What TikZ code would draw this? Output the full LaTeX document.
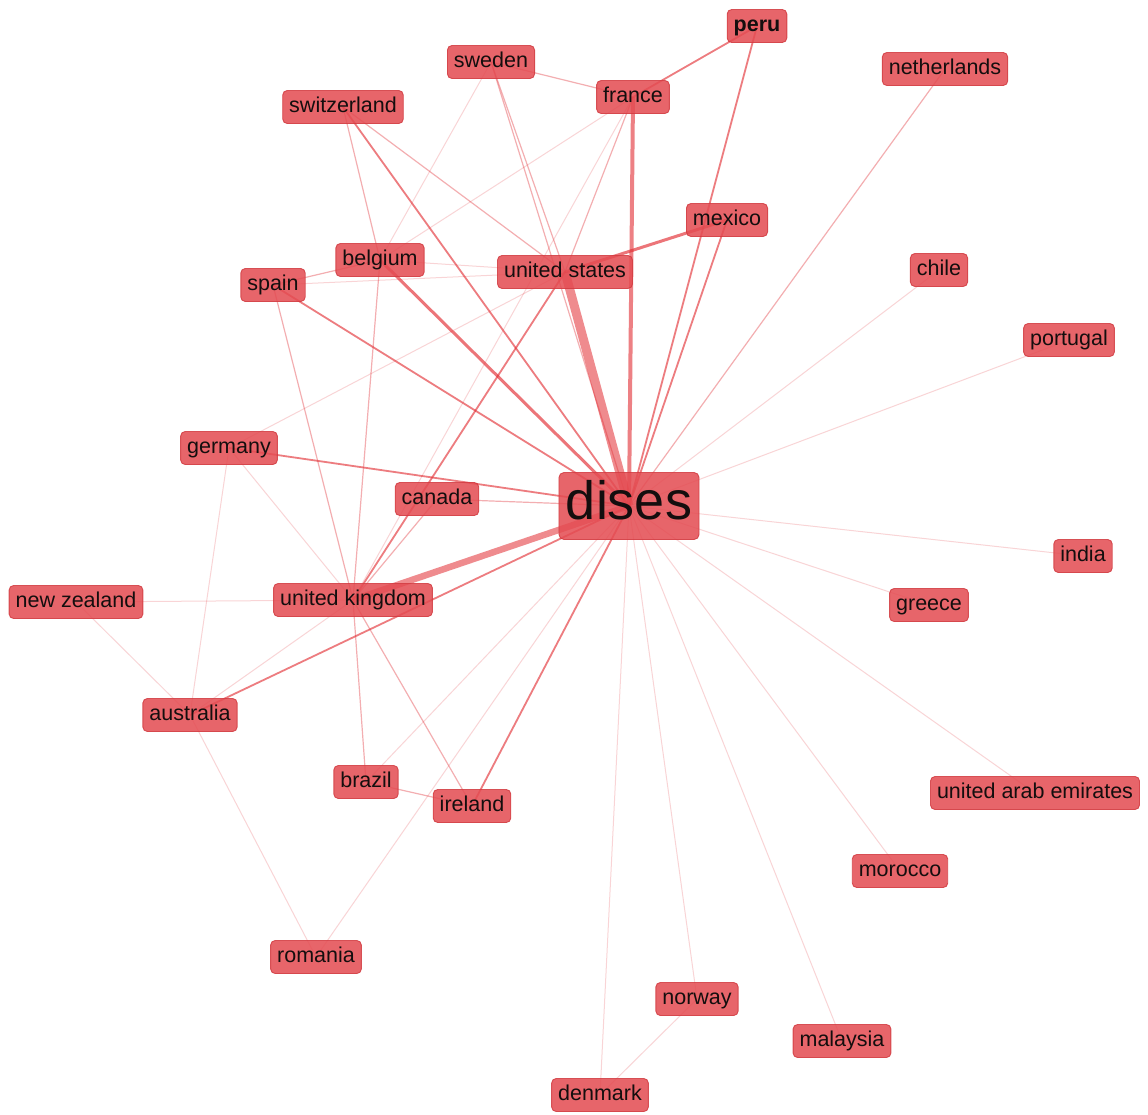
\documentclass[tikz,border=0pt]{standalone}
\usepackage{fontspec}
\setmainfont{Liberation Sans}
\usetikzlibrary{backgrounds}
\definecolor{nodefill}{RGB}{228,76,82}
\definecolor{nodeborder}{RGB}{210,58,64}
\definecolor{edgecol}{RGB}{226,44,50}
\definecolor{txt}{RGB}{20,14,14}
\begin{document}
\begin{tikzpicture}[x=1pt,y=-1pt,
  country/.style={rectangle, rounded corners=4.5pt, fill=nodefill, fill opacity=0.86, text opacity=1,
    draw=nodeborder, line width=0.9pt, draw opacity=0.85, text=txt, font=\fontsize{21.5}{24}\selectfont,
    minimum height=33pt, inner xsep=6.5pt, inner ysep=0pt, text height=15.4pt, text depth=4.5pt},
  hub/.style={country, font=\fontsize{54}{60}\selectfont, minimum height=67pt, inner xsep=7pt,
    text height=38.7pt, text depth=11.3pt, rounded corners=5pt},
  eheavy/.style={draw=edgecol, draw opacity=0.55},
  emed/.style={draw=edgecol, line width=1.8pt, draw opacity=0.62},
  ethin/.style={draw=edgecol, line width=1.2pt, draw opacity=0.38},
  elight/.style={draw=edgecol, line width=1pt, draw opacity=0.2}]
\useasboundingbox (0,0) rectangle (1148,1114);

% nodes
\node[hub] (dises) at (629,506) {dises};
\node[country, font=\fontsize{21.5}{24}\selectfont\bfseries] (peru) at (757,26) {peru};
\node[country] (sweden) at (491,62) {sweden};
\node[country] (france) at (633,97) {france};
\node[country] (switzerland) at (343,107) {switzerland};
\node[country] (netherlands) at (945,69) {netherlands};
\node[country] (mexico) at (727,220) {mexico};
\node[country] (belgium) at (380,260) {belgium};
\node[country] (us) at (565,272) {united states};
\node[country] (spain) at (273,285) {spain};
\node[country] (chile) at (939,270) {chile};
\node[country] (portugal) at (1069,340) {portugal};
\node[country] (germany) at (229,448) {germany};
\node[country] (canada) at (437,499) {canada};
\node[country] (india) at (1083,556) {india};
\node[country] (greece) at (929,605) {greece};
\node[country] (nz) at (76,602) {new zealand};
\node[country] (uk) at (353,600) {united kingdom};
\node[country] (australia) at (190,715) {australia};
\node[country] (brazil) at (366,782) {brazil};
\node[country] (ireland) at (472,806) {ireland};
\node[country] (uae) at (1035,793) {united arab emirates};
\node[country] (morocco) at (900,871) {morocco};
\node[country] (romania) at (316,957) {romania};
\node[country] (norway) at (697,999) {norway};
\node[country] (malaysia) at (842,1041) {malaysia};
\node[country] (denmark) at (600,1095) {denmark};

\begin{scope}[on background layer]
\fill[white] (0,0) rectangle (1148,1114);
% light edges
\foreach \a/\b in {sweden/belgium, france/belgium, germany/us, uk/france, spain/us, belgium/us,
  chile/dises, portugal/dises, india/dises, greece/dises, uae/dises, morocco/dises, malaysia/dises,
  norway/dises, denmark/dises, norway/denmark, brazil/dises, romania/dises, australia/romania,
  australia/nz, uk/nz, uk/australia, germany/uk, germany/australia}
  \draw[elight] (\a.center) -- (\b.center);
% thin edges
\foreach \a/\b in {sweden/us, sweden/dises, switzerland/us, uk/ireland, uk/brazil, spain/uk,
  belgium/uk, netherlands/dises, canada/dises, spain/belgium, canada/uk, switzerland/belgium,
  france/us, france/sweden, brazil/ireland}
  \draw[ethin] (\a.center) -- (\b.center);
% medium edges
\foreach \a/\b in {peru/dises, mexico/dises, switzerland/dises, spain/dises, germany/dises,
  australia/dises, ireland/dises, peru/france, us/uk}
  \draw[emed] (\a.center) -- (\b.center);
% heavy edges
\draw[eheavy, line width=9pt] (us.center) -- (dises.center);
\draw[eheavy, line width=6.5pt] (uk.center) -- (dises.center);
\draw[eheavy, line width=4pt, draw opacity=0.6] (france.center) -- (dises.center);
\draw[eheavy, line width=3pt, draw opacity=0.65] (belgium.center) -- (dises.center);
\draw[eheavy, line width=3pt, draw opacity=0.65] (mexico.center) -- (us.center);
\end{scope}
\end{tikzpicture}
\end{document}
